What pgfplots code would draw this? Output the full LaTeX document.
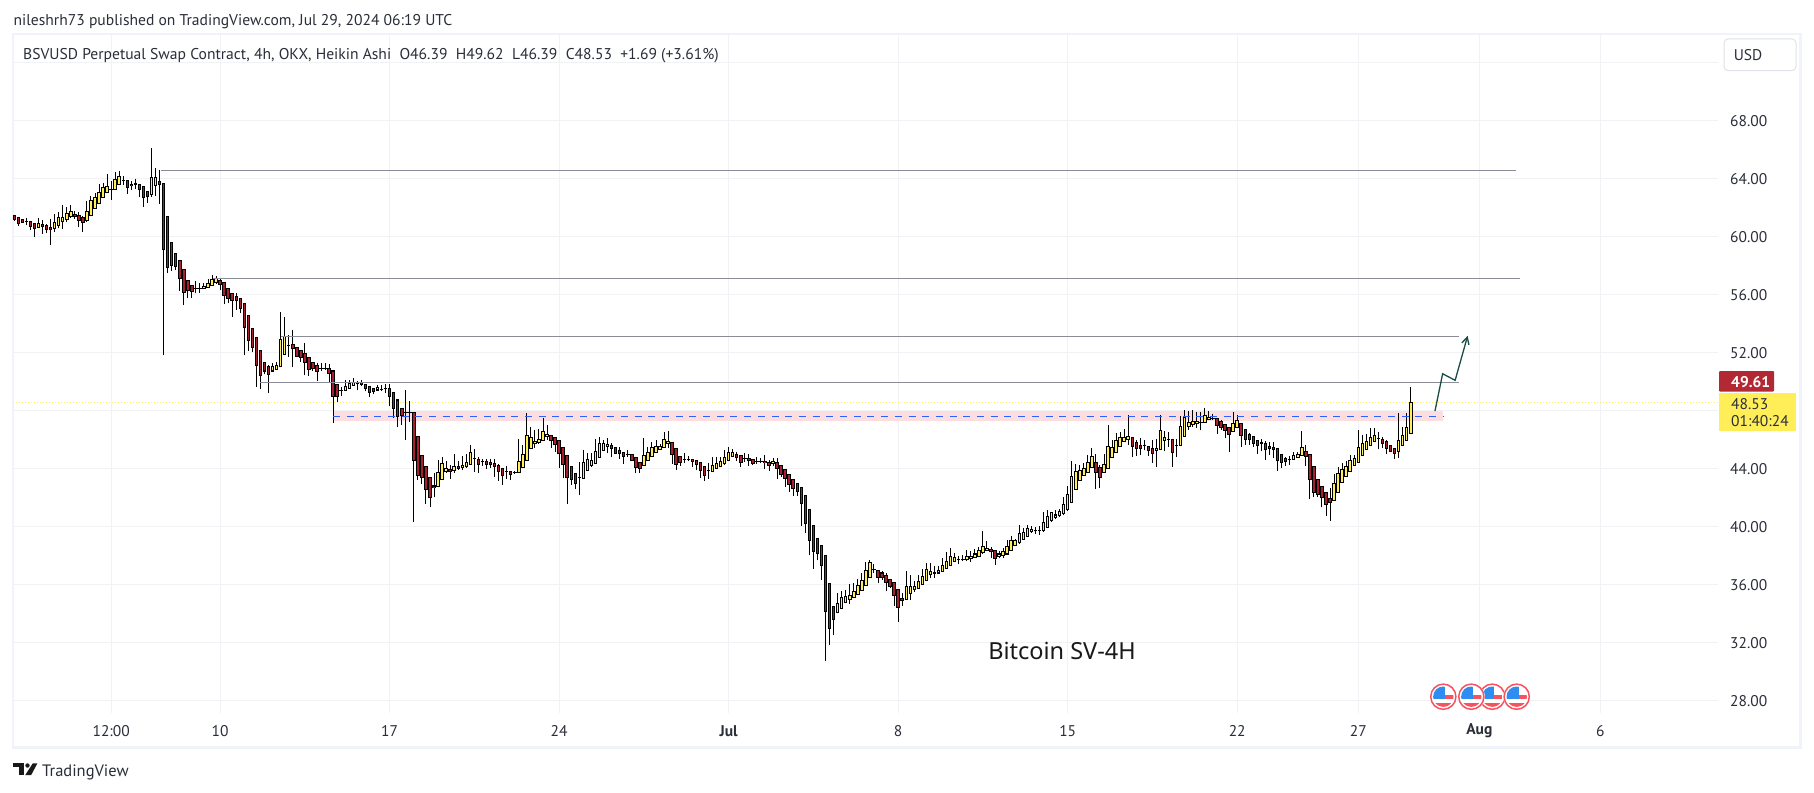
\documentclass[border=0pt]{standalone}
\usepackage{fontspec}
\usepackage{pgfplots}
\usepackage{pgfplotstable}
\pgfplotsset{compat=1.18}
\usetikzlibrary{arrows.meta}
\setmainfont{PT Sans}
\newfontfamily\titlefont{Noto Sans}
\definecolor{tvframe}{HTML}{F0F3FA}
\definecolor{tvgrid}{HTML}{F0F2F6}
\definecolor{tvtext}{HTML}{2A2E39}
\definecolor{tvred}{HTML}{A8202E}
\definecolor{tvyel}{HTML}{FFEE58}
\definecolor{tvline}{HTML}{8A8D97}
\definecolor{tvband}{HTML}{FCDDE0}
\definecolor{tvblue}{HTML}{2962FF}
\definecolor{tvarrow}{HTML}{1B4D47}
\definecolor{tvtag}{HTML}{B22833}
\definecolor{flagr}{HTML}{F7525F}
\definecolor{flagb}{HTML}{2F8CF0}
\pgfplotstableread{
i o h l c
0 61.44 61.44 61.07 61.17
1 61.30 61.30 60.73 60.91
2 61.17 61.17 60.94 60.94
3 61.03 61.23 60.77 61.03
4 61.00 61.00 60.45 60.70
5 60.89 60.89 59.97 60.54
6 60.64 61.26 60.54 60.89
7 60.82 61.12 60.15 60.66
8 60.75 60.84 60.22 60.50
9 60.61 61.19 59.41 60.48
10 60.54 61.53 60.31 60.96
11 60.73 61.65 60.54 61.30
12 61.00 62.16 60.50 61.30
13 61.17 62.02 61.00 61.58
14 61.35 62.16 61.24 61.72
15 61.51 61.72 61.19 61.35
16 61.42 61.65 60.61 61.12
17 61.30 61.37 60.31 60.96
18 61.07 62.43 61.00 61.72
19 61.44 62.76 61.37 62.48
20 61.93 62.96 61.88 62.69
21 62.27 63.61 62.25 63.03
22 62.69 63.65 62.64 63.38
23 63.03 64.30 62.99 63.45
24 63.24 63.84 62.53 63.24
25 63.24 64.41 63.19 63.93
26 63.59 64.48 63.54 64.14
27 63.84 64.14 63.56 63.84
28 63.86 63.86 62.94 63.36
29 63.59 63.84 63.19 63.49
30 63.63 63.95 63.26 63.56
31 63.56 63.61 62.73 63.24
32 63.45 63.45 62.04 62.66
33 63.10 63.10 62.32 62.76
34 62.89 66.10 62.73 64.07
35 63.49 64.69 62.78 64.07
36 63.79 64.60 62.25 63.56
37 63.65 63.65 51.81 59.09
38 61.37 61.37 57.48 57.85
39 59.58 59.58 57.62 57.96
40 58.82 58.82 57.69 57.92
41 58.33 58.33 56.24 57.09
42 57.71 57.71 55.27 56.12
43 56.95 56.95 55.75 56.24
44 56.60 56.60 55.75 56.17
45 56.40 56.90 56.07 56.40
46 56.40 56.77 56.10 56.40
47 56.37 56.81 56.35 56.54
48 56.44 57.04 56.42 56.74
49 56.58 57.30 56.56 57.02
50 56.79 57.25 56.74 57.09
51 56.95 57.06 56.28 56.65
52 56.81 56.81 55.31 55.89
53 56.40 56.40 55.38 55.71
54 56.07 56.07 54.44 55.55
55 55.84 56.12 54.92 55.55
56 55.71 55.71 54.69 54.99
57 55.36 55.36 51.81 53.68
58 54.53 54.53 52.09 52.78
59 53.63 53.63 52.02 52.34
60 53.01 53.01 49.62 51.12
61 52.11 52.11 49.44 50.43
62 51.28 51.28 50.48 50.71
63 51.00 51.10 49.21 50.50
64 50.71 51.28 50.66 51.00
65 50.82 51.33 50.77 51.07
66 51.00 54.81 50.96 52.87
67 51.88 54.46 51.79 53.12
68 52.50 53.17 51.70 52.50
69 52.53 53.52 50.98 52.23
70 52.36 52.36 51.67 51.74
71 52.11 52.11 51.35 51.67
72 51.90 52.66 50.41 51.33
73 51.63 51.63 50.36 50.84
74 51.28 51.28 50.71 50.87
75 51.07 51.28 50.01 50.68
76 50.87 51.24 50.71 50.87
77 50.91 51.24 50.77 50.91
78 50.87 51.17 49.95 50.54
79 50.71 50.71 47.12 48.96
80 49.81 49.81 48.54 48.96
81 49.37 49.60 49.00 49.37
82 49.37 50.09 49.35 49.67
83 49.51 50.07 49.49 49.88
84 49.72 50.23 49.70 49.93
85 49.83 50.00 49.37 49.83
86 49.93 50.09 49.70 49.79
87 49.81 49.81 49.31 49.51
88 49.67 49.67 48.89 49.24
89 49.47 49.47 49.10 49.28
90 49.40 49.74 49.35 49.54
91 49.44 49.72 49.31 49.44
92 49.47 49.83 49.19 49.47
93 49.49 49.83 48.27 48.96
94 49.26 49.26 47.48 48.13
95 48.71 48.71 46.82 47.58
96 48.15 48.15 47.00 47.62
97 47.88 49.42 45.96 47.88
98 47.88 48.66 47.16 47.88
99 47.88 47.88 40.32 44.56
100 46.22 46.22 43.20 43.50
101 44.90 44.90 42.95 43.36
102 44.14 44.14 41.56 42.55
103 43.38 43.38 41.36 42.00
104 42.78 43.66 42.00 42.69
105 42.74 44.56 42.69 43.73
106 43.25 44.77 43.20 44.35
107 43.75 44.49 43.66 44.00
108 43.94 44.26 43.27 43.78
109 43.82 44.98 43.71 44.14
110 44.10 44.47 43.89 43.98
111 44.03 44.86 43.89 44.21
112 44.12 45.02 44.03 44.42
113 44.28 45.60 44.24 45.11
114 44.67 45.32 43.75 44.67
115 44.63 44.77 43.66 44.28
116 44.47 44.67 44.19 44.47
117 44.44 44.67 43.94 44.28
118 44.38 44.65 44.00 44.26
119 44.35 44.65 43.43 44.12
120 44.21 44.30 43.13 43.78
121 44.00 44.00 42.88 43.50
122 43.80 44.14 43.25 43.80
123 43.80 43.82 43.22 43.57
124 43.73 43.84 43.61 43.73
125 43.71 46.03 43.66 44.49
126 44.05 45.60 44.00 44.97
127 44.56 47.81 44.51 46.29
128 45.37 46.84 45.32 46.15
129 45.71 46.66 45.39 45.87
130 45.78 46.70 45.69 46.01
131 45.92 47.46 45.87 46.56
132 46.19 47.00 45.96 46.36
133 46.29 46.29 45.43 45.92
134 46.15 46.15 45.13 45.64
135 45.94 45.94 44.05 45.02
136 45.46 45.46 43.36 44.26
137 44.88 44.88 41.56 43.36
138 44.14 44.14 42.88 43.22
139 43.66 43.66 42.58 42.95
140 43.34 44.42 42.19 43.34
141 43.29 45.25 43.25 44.42
142 43.84 45.04 43.80 44.63
143 44.19 45.04 44.12 44.51
144 44.33 45.99 44.28 45.18
145 44.74 46.19 44.70 45.73
146 45.23 45.92 45.18 45.73
147 45.50 46.10 45.04 45.66
148 45.60 45.73 44.81 45.37
149 45.46 45.50 44.97 45.02
150 45.25 45.46 44.65 45.02
151 45.11 45.11 44.30 44.81
152 44.95 45.27 44.77 44.95
153 44.95 44.98 44.47 44.53
154 44.77 44.77 43.71 44.05
155 44.42 44.42 43.68 43.98
156 44.21 46.08 44.17 44.90
157 44.53 45.46 44.49 45.11
158 44.81 45.83 44.77 45.46
159 45.09 45.92 45.04 45.53
160 45.32 45.69 45.27 45.53
161 45.43 46.52 45.39 46.01
162 45.73 46.59 45.39 45.87
163 45.80 45.80 44.30 44.95
164 45.39 45.39 43.91 44.26
165 44.83 44.83 44.17 44.40
166 44.63 45.04 44.35 44.63
167 44.63 44.86 44.47 44.63
168 44.63 44.63 44.12 44.47
169 44.56 44.56 43.89 44.26
170 44.42 44.42 43.31 43.87
171 44.14 44.14 43.15 43.50
172 43.82 44.40 43.25 43.82
173 43.80 44.81 43.75 44.21
174 43.98 44.77 43.94 44.35
175 44.12 44.81 44.07 44.49
176 44.33 45.27 44.26 44.77
177 44.56 45.46 44.49 45.11
178 44.81 45.34 44.77 45.11
179 44.97 45.09 44.53 44.72
180 44.90 44.90 44.12 44.40
181 44.67 45.04 44.44 44.67
182 44.70 44.98 44.17 44.53
183 44.63 44.63 44.26 44.33
184 44.47 44.81 44.30 44.47
185 44.47 44.70 44.35 44.47
186 44.49 44.93 43.94 44.38
187 44.42 44.58 43.84 44.19
188 44.33 44.70 44.17 44.49
189 44.42 44.70 43.27 43.98
190 44.21 44.21 43.43 43.57
191 43.94 43.94 42.74 43.29
192 43.59 43.59 42.39 42.88
193 43.25 43.25 42.09 42.60
194 42.97 42.97 42.12 42.39
195 42.69 42.69 40.04 41.56
196 42.14 42.14 39.56 40.18
197 41.17 41.17 38.04 39.03
198 40.07 40.07 37.07 38.27
199 39.17 39.17 37.67 38.11
200 38.71 38.71 36.31 37.30
201 38.02 38.02 30.74 34.12
202 36.08 36.08 31.84 32.97
203 34.49 34.49 32.53 33.57
204 34.06 35.42 33.99 34.70
205 34.36 35.51 34.31 35.12
206 34.75 35.62 34.70 35.19
207 34.98 36.01 34.63 35.25
208 35.12 36.08 35.05 35.53
209 35.32 36.36 35.28 35.95
210 35.60 36.80 35.55 36.29
211 35.95 37.54 35.90 36.98
212 36.50 37.70 36.45 37.47
213 37.05 37.40 36.78 37.05
214 36.98 36.98 36.06 36.47
215 36.78 36.89 36.31 36.47
216 36.64 36.78 35.51 36.13
217 36.36 36.36 35.74 35.88
218 36.15 36.15 34.47 35.23
219 35.67 35.67 33.37 34.41
220 35.05 35.39 34.52 34.89
221 34.98 36.91 34.93 35.88
222 35.39 36.64 34.89 35.88
223 35.65 36.20 35.44 35.88
224 35.74 36.64 35.69 36.22
225 36.02 37.05 35.97 36.57
226 36.29 37.49 36.24 37.05
227 36.68 37.47 36.41 36.91
228 36.78 37.26 36.43 36.78
229 36.78 37.28 36.73 36.98
230 36.91 37.81 36.87 37.33
231 37.12 38.23 37.07 37.54
232 37.33 38.50 37.28 37.95
233 37.60 38.16 37.56 37.88
234 37.74 37.93 37.37 37.74
235 37.74 38.04 37.58 37.74
236 37.74 38.39 37.58 37.95
237 37.79 38.32 37.56 37.95
238 37.88 38.43 37.81 38.09
239 37.95 38.57 37.90 38.36
240 38.16 39.70 38.11 38.64
241 38.36 39.01 38.27 38.50
242 38.43 38.57 37.83 38.23
243 38.36 38.36 37.35 37.81
244 37.93 38.27 37.81 38.09
245 37.99 38.50 37.81 38.23
246 38.09 39.08 38.04 38.64
247 38.36 39.36 38.32 38.99
248 38.71 39.12 38.66 38.99
249 38.85 40.09 38.80 39.47
250 39.12 39.88 39.08 39.54
251 39.33 40.09 39.29 39.82
252 39.61 40.00 39.54 39.75
253 39.68 39.95 39.49 39.68
254 39.68 40.00 39.42 39.68
255 39.68 41.01 39.63 40.23
256 39.95 41.15 39.91 40.71
257 40.37 40.99 40.32 40.92
258 40.60 41.11 40.51 40.78
259 40.72 41.20 40.67 40.99
260 40.85 42.03 40.81 41.47
261 41.13 42.81 41.08 42.17
262 41.63 44.49 41.59 43.45
263 42.55 44.28 42.51 43.80
264 43.18 44.21 43.13 43.87
265 43.52 44.35 43.48 44.00
266 43.73 44.93 43.68 44.42
267 44.07 45.39 44.03 44.79
268 44.42 44.96 42.60 43.73
269 44.07 44.21 42.67 43.38
270 43.73 44.98 43.68 44.28
271 44.00 47.00 43.96 45.53
272 44.77 45.96 44.72 45.46
273 45.11 46.42 45.07 45.94
274 45.53 46.49 45.48 46.15
275 45.85 46.70 45.80 46.15
276 46.01 47.67 45.62 46.22
277 46.15 46.15 44.81 45.53
278 45.80 45.96 44.88 45.39
279 45.60 46.08 44.95 45.39
280 45.60 45.96 45.23 45.60
281 45.53 45.53 44.86 45.23
282 45.39 45.96 44.40 45.04
283 45.25 46.01 44.12 45.39
284 45.32 47.67 45.27 46.63
285 45.94 46.56 45.16 46.15
286 46.01 46.49 45.50 46.01
287 46.01 46.01 44.12 45.09
288 45.60 46.03 44.81 45.60
289 45.60 47.58 45.55 46.91
290 46.22 47.99 46.17 47.53
291 46.91 47.92 46.66 47.19
292 47.05 47.99 46.82 47.25
293 47.12 47.85 46.79 47.25
294 47.19 47.85 46.61 47.19
295 47.19 48.15 47.14 47.67
296 47.39 47.97 47.35 47.53
297 47.46 47.76 47.30 47.46
298 47.46 47.46 46.38 46.98
299 47.25 47.35 46.66 46.84
300 47.05 47.05 46.10 46.63
301 46.84 46.84 45.09 46.36
302 46.56 47.90 46.52 47.12
303 46.84 47.67 46.79 47.33
304 47.12 47.12 45.46 46.29
305 46.70 46.70 45.62 46.01
306 46.36 46.42 45.62 46.01
307 46.22 46.22 45.46 45.73
308 45.94 45.94 45.00 45.57
309 45.80 46.05 45.20 45.73
310 45.73 45.89 44.58 45.31
311 45.52 45.82 44.92 45.38
312 45.45 45.82 44.69 45.31
313 45.38 45.38 43.84 44.55
314 44.97 44.97 44.05 44.42
315 44.69 44.76 44.19 44.48
316 44.62 44.83 44.26 44.62
317 44.62 45.13 44.58 44.90
318 44.76 45.11 44.74 44.97
319 44.90 46.58 44.85 45.45
320 45.18 45.59 44.16 44.83
321 44.97 44.97 41.86 43.24
322 44.14 44.14 42.04 42.34
323 43.24 43.24 42.00 42.20
324 42.76 42.76 41.30 41.99
325 42.34 42.34 40.68 41.51
326 41.93 42.62 40.38 41.65
327 41.79 43.61 41.74 42.96
328 42.34 44.09 42.30 43.65
329 43.03 44.35 42.99 43.93
330 43.45 44.51 43.40 44.14
331 43.79 44.90 43.75 44.55
332 44.21 44.90 44.16 44.69
333 44.41 46.63 44.37 45.45
334 44.90 46.30 44.85 45.73
335 45.31 46.35 45.27 45.87
336 45.59 46.79 45.54 46.14
337 45.87 46.79 45.82 46.28
338 46.05 46.51 45.31 46.05
339 46.00 46.14 45.38 45.73
340 45.87 45.94 44.99 45.38
341 45.59 45.59 45.13 45.18
342 45.38 45.38 44.65 45.04
343 45.18 47.82 44.71 45.94
344 45.59 46.88 45.54 46.28
345 45.94 47.82 45.89 46.83
346 46.39 49.62 46.39 48.53
}\candles
\newcommand{\usflag}[2]{%
  \begin{scope}[shift={(#1,#2)}]
    \fill[white] (0,0) circle[radius=13.6];
    \draw[flagr,line width=1.5pt] (0,0) circle[radius=12.6];
    \begin{scope}
      \clip (0,0) circle[radius=10.2];
      \fill[flagr] (-11,6) rectangle (11,11);
      \fill[flagr] (2,-2) rectangle (11,2.6);
      \fill[flagb] (-11,-11) rectangle (2,2.6);
    \end{scope}
  \end{scope}}
\begin{document}
\begin{tikzpicture}[x=1pt,y=-1pt]
\path[use as bounding box] (0,0) rectangle (1814,792);
\fill[white] (0,0) rectangle (1814,792);
\draw[tvframe,line width=2.4pt] (13,34) rectangle (1800.5,747.5);
\begin{axis}[
  at={(13pt,-713pt)}, anchor=south west,
  scale only axis, width=1705pt, height=680pt,
  xmin=-0.322, xmax=422.13, ymin=27.124, ymax=74.02,
  axis line style={draw=none},
  tick style={draw=none},
  grid=major,
  major grid style={draw=tvgrid,line width=1.1pt},
  xtick={24,51,93,135,177,219,261,303,333,363,393},
  xticklabels={12:00,10,17,24,\textbf{Jul},8,15,22,27,\textbf{Aug},6},
  ytick={28,32,36,40,44,48,52,56,60,64,68,72},
  yticklabels={28.00,32.00,36.00,40.00,44.00,,52.00,56.00,60.00,64.00,68.00,},
  yticklabel pos=right,
  tick label style={font=\fontsize{15.5}{17}\selectfont,text=tvtext},
  yticklabel style={anchor=west,inner sep=0pt,xshift=12pt,yshift=-1pt},
  xticklabel style={anchor=center,inner sep=0pt,yshift=-18pt},
]
\addplot[draw=none,fill=tvband,forget plot] coordinates {(79,47.28)(354,47.28)(354,47.92)(79,47.92)} --cycle;
\addplot[tvyel,line width=1pt,dotted,forget plot] coordinates {(-0.3,48.53)(422,48.53)};
% wicks
\addplot[draw=none,mark=none,forget plot,error bars/.cd,y dir=plus,y explicit,error mark=none,
  error bar style={draw=black,solid,line width=1pt}]
  table[x=i,y=l,y error expr=\thisrow{h}-\thisrow{l}] {\candles};
% black bodies
\addplot[draw=none,mark=none,forget plot,error bars/.cd,y dir=plus,y explicit,error mark=none,
  error bar style={draw=black,solid,line width=3.5pt}]
  table[x=i,y expr={min(\thisrow{o},\thisrow{c})-0.035},y error expr={abs(\thisrow{c}-\thisrow{o})+0.07}] {\candles};
% yellow insides
\addplot[draw=none,mark=none,forget plot,error bars/.cd,y dir=plus,y explicit,error mark=none,
  error bar style={draw=tvyel,solid,line width=1.5pt}]
  table[x expr={\thisrow{c}>\thisrow{o} ? \thisrow{i} : nan},y expr={\thisrow{o}+0.035},y error expr={max(\thisrow{c}-\thisrow{o}-0.07,0)}] {\candles};
% red insides
\addplot[draw=none,mark=none,forget plot,error bars/.cd,y dir=plus,y explicit,error mark=none,
  error bar style={draw=tvred,solid,line width=1.5pt}]
  table[x expr={\thisrow{c}<\thisrow{o} ? \thisrow{i} : nan},y expr={\thisrow{c}+0.035},y error expr={max(\thisrow{o}-\thisrow{c}-0.07,0)}] {\candles};
% drawn levels
\addplot[tvline,line width=1.2pt,forget plot] coordinates {(36.3,64.55)(372,64.55)};
\addplot[tvline,line width=1.2pt,forget plot] coordinates {(49.3,57.11)(373,57.11)};
\addplot[tvline,line width=1.2pt,forget plot] coordinates {(66,53.09)(358,53.09)};
\addplot[tvline,line width=1.2pt,forget plot] coordinates {(61,49.91)(358,49.91)};
\addplot[tvblue,line width=1.2pt,dash pattern=on 7pt off 6.7pt,forget plot] coordinates {(79,47.6)(354,47.6)};
\addplot[tvarrow,line width=1.3pt,-{Straight Barb[length=7pt,width=15pt,angle'=55]},forget plot] coordinates {(352,47.95)(353.9,50.52)(357,50.07)(360.1,53.14)};
\end{axis}
% top texts
\node[anchor=west,inner sep=0pt,text=tvtext,font=\fontsize{15.6}{17}\selectfont] at (13.5,21.5) {nileshrh73 published on TradingView.com, Jul 29, 2024 06:19 UTC};
\node[anchor=west,inner sep=0pt,text=tvtext,font=\fontsize{15.6}{17}\selectfont] at (23,55.5) {BSVUSD Perpetual Swap Contract, 4h, OKX, Heikin Ashi\ \ O46.39\ \ H49.62\ \ L46.39\ \ C48.53\ \ +1.69 (+3.61\%)};
% currency button
\draw[tvframe!85!gray,line width=1pt,rounded corners=4pt,fill=white] (1724,39) rectangle (1796,70.5);
\node[text=tvtext,font=\fontsize{15.5}{17}\selectfont] at (1748,55.5) {USD};
% price tags
\fill[tvtag,rounded corners=1pt] (1719,371) rectangle (1774,391.7);
\node[anchor=west,inner sep=0pt,text=white,font=\fontsize{15.5}{17}\selectfont\bfseries] at (1731,382) {49.61};
\fill[tvyel] (1719,393) rectangle (1796,431);
\node[anchor=west,inner sep=0pt,text=tvtext,font=\fontsize{15.5}{17}\selectfont] at (1731,404) {48.53};
\node[anchor=west,inner sep=0pt,text=tvtext,font=\fontsize{15.5}{17}\selectfont] at (1731,421.5) {01:40:24};
% chart title
\node[text=black!90,font=\titlefont\bfseries\fontsize{23.5}{28}\selectfont] at (1062,651) {Bitcoin SV-4H};
% event flags
\usflag{1443.3}{696.7}
\usflag{1492.3}{696.7}
\usflag{1471.3}{696.7}
\usflag{1516.7}{696.7}
% logo
\fill[black!90] (13.3,763.3) rectangle (24.2,767.2);
\fill[black!90] (18.8,763.3) rectangle (24.2,775);
\fill[black!90] (27.5,765.5) circle[radius=2.2];
\fill[black!90] (32.8,763.3) -- (37.4,763.3) -- (31.2,775) -- (25.3,775) -- cycle;
\node[anchor=west,inner sep=0pt,text=tvtext,font=\fontsize{16.5}{18}\selectfont] at (42,772) {TradingView};
\end{tikzpicture}
\end{document}
